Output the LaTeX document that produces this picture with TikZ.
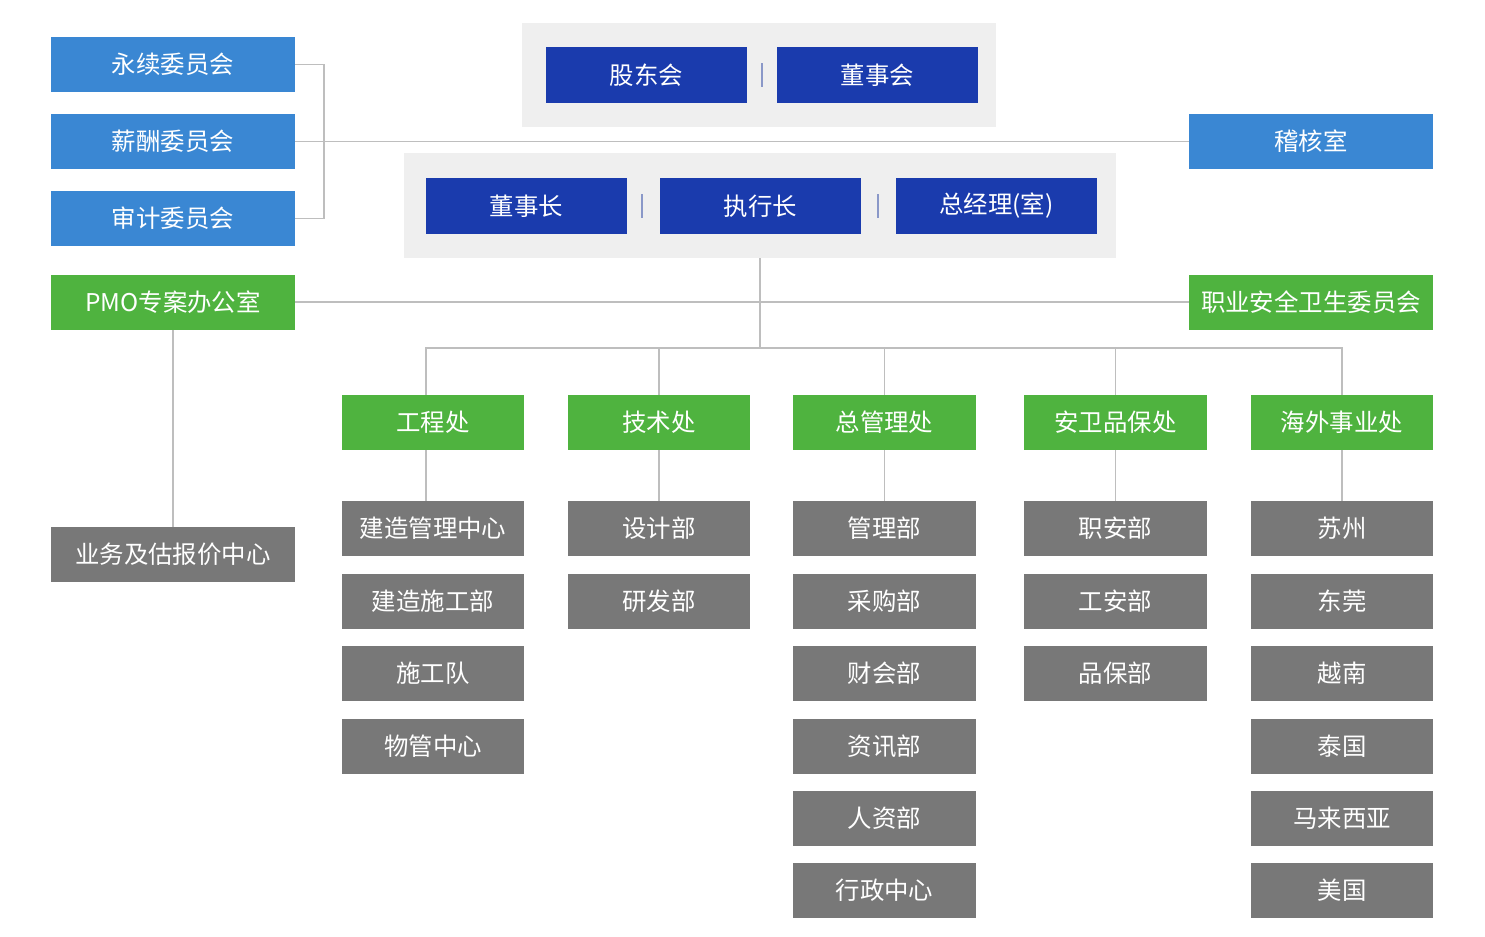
\documentclass[tikz,border=0pt]{standalone}
\usepackage{fontspec}
\setmainfont{Noto Sans CJK SC}
\usetikzlibrary{positioning}

\definecolor{cmtblue}{HTML}{3A87D3}
\definecolor{ceoblue}{HTML}{1A3BAD}
\definecolor{deptgreen}{HTML}{4FB33F}
\definecolor{unitgray}{HTML}{787878}
\definecolor{panelgray}{HTML}{EFEFEF}
\definecolor{linegray}{HTML}{BEBEBE}
\definecolor{sepblue}{HTML}{8A98C8}

\tikzset{
  box/.style={inner sep=0pt, text=white, font=\fontsize{13.9}{16}\selectfont},
  cmt/.style={box, fill=cmtblue, minimum width=4.88cm, minimum height=1.1cm},
  ceo/.style={box, fill=ceoblue, minimum width=4.02cm, minimum height=1.12cm},
  dept/.style={box, fill=deptgreen, minimum width=3.66cm, minimum height=1.1cm},
  unit/.style={box, fill=unitgray, minimum width=3.66cm, minimum height=1.1cm},
  panel/.style={fill=panelgray, inner sep=0pt},
  link/.style={draw=linegray, line width=0.7pt},
  sep/.style={draw=sepblue, line width=0.8pt}
}

\begin{document}
\begin{tikzpicture}[x=0.02cm, y=-0.02cm]
            \useasboundingbox (0,0) rectangle (1485,937);

            \node[panel, minimum width=9.48cm, minimum height=2.08cm] (board) at (759,75) {};
            \node[panel, minimum width=14.24cm, minimum height=2.1cm] (mgmt) at (760,205.5) {};

            \node[ceo] (GDH) at (646.5,75) {股东会};
            \node[ceo] (DSH) at (877.5,75) {董事会};
            \node[ceo] (DSZ) at (526.5,206) {董事长};
            \node[ceo] (ZXZ) at (760.5,206) {执行长};
            \node[ceo] (ZJL) at (996.5,206) {总经理(室)};

            \draw[sep] (762,63) -- (762,87);
            \draw[sep] (642,194) -- (642,218);
            \draw[sep] (878,194) -- (878,218);

            \node[cmt] (YX) at (173,64.5) {永续委员会};
            \node[cmt] (XC) at (173,141.5) {薪酬委员会};
            \node[cmt] (SJ) at (173,218.5) {审计委员会};
            \node[cmt] (JHS) at (1311,141.5) {稽核室};

            \node[dept] (PMO) at (173,302) [minimum width=4.88cm] {PMO专案办公室};
            \node[dept] (ZYAQ) at (1311,302) [minimum width=4.88cm] {职业安全卫生委员会};
            \node[unit] (YWBJ) at (173,554.5) [minimum width=4.88cm] {业务及估报价中心};

            \node[dept] (GCC) at (433,422.5) {工程处};
            \node[dept] (JSC) at (659,422.5) {技术处};
            \node[dept] (ZGLC) at (884.5,422.5) {总管理处};
            \node[dept] (AWPB) at (1115.5,422.5) {安卫品保处};
            \node[dept] (HWSY) at (1342,422.5) {海外事业处};

            \node[unit] (JZGL) at (433,528.5) {建造管理中心};
            \node[unit] (JZSG) at (433,601.5) {建造施工部};
            \node[unit] (SGD) at (433,673.5) {施工队};
            \node[unit] (WGZX) at (433,746.5) {物管中心};

            \node[unit] (SJB) at (659,528.5) {设计部};
            \node[unit] (YFB) at (659,601.5) {研发部};

            \node[unit] (GLB) at (884.5,528.5) {管理部};
            \node[unit] (CGB) at (884.5,601.5) {采购部};
            \node[unit] (CKB) at (884.5,673.5) {财会部};
            \node[unit] (ZXB) at (884.5,746.5) {资讯部};
            \node[unit] (RZB) at (884.5,818.5) {人资部};
            \node[unit] (XZZX) at (884.5,890.5) {行政中心};

            \node[unit] (ZAB) at (1115.5,528.5) {职安部};
            \node[unit] (GAB) at (1115.5,601.5) {工安部};
            \node[unit] (PBB) at (1115.5,673.5) {品保部};

            \node[unit] (SZ) at (1342,528.5) {苏州};
            \node[unit] (DG) at (1342,601.5) {东莞};
            \node[unit] (YN) at (1342,673.5) {越南};
            \node[unit] (TG) at (1342,746.5) {泰国};
            \node[unit] (MLXY) at (1342,818.5) {马来西亚};
            \node[unit] (MG) at (1342,890.5) {美国};

            \coordinate (br) at (324,141.5);
            \coordinate (hub) at (760,348);

            \draw[link] (YX.east) -| (br) |- (SJ.east);
            \draw[link] (XC.east) -- (JHS.west);
            \draw[link] (PMO.east) -- (ZYAQ.west);
            \draw[link] (PMO) -- (YWBJ);
            \draw[link] (mgmt.south) -- (hub);
            \draw[link] ([xshift=-0.14cm]GCC.north) |- (hub) -| (HWSY.north);
            \draw[link] (JSC.north) -- (JSC.north |- hub);
            \draw[link] (ZGLC.north) -- (ZGLC.north |- hub);
            \draw[link] (AWPB.north) -- (AWPB.north |- hub);

            \draw[link] ([xshift=-0.14cm]GCC.south) -- ([xshift=-0.14cm]JZGL.north);
            \draw[link] (JSC) -- (SJB);
            \draw[link] (ZGLC) -- (GLB);
            \draw[link] (AWPB) -- (ZAB);
            \draw[link] (HWSY) -- (SZ);

        \end{tikzpicture}
\end{document}
